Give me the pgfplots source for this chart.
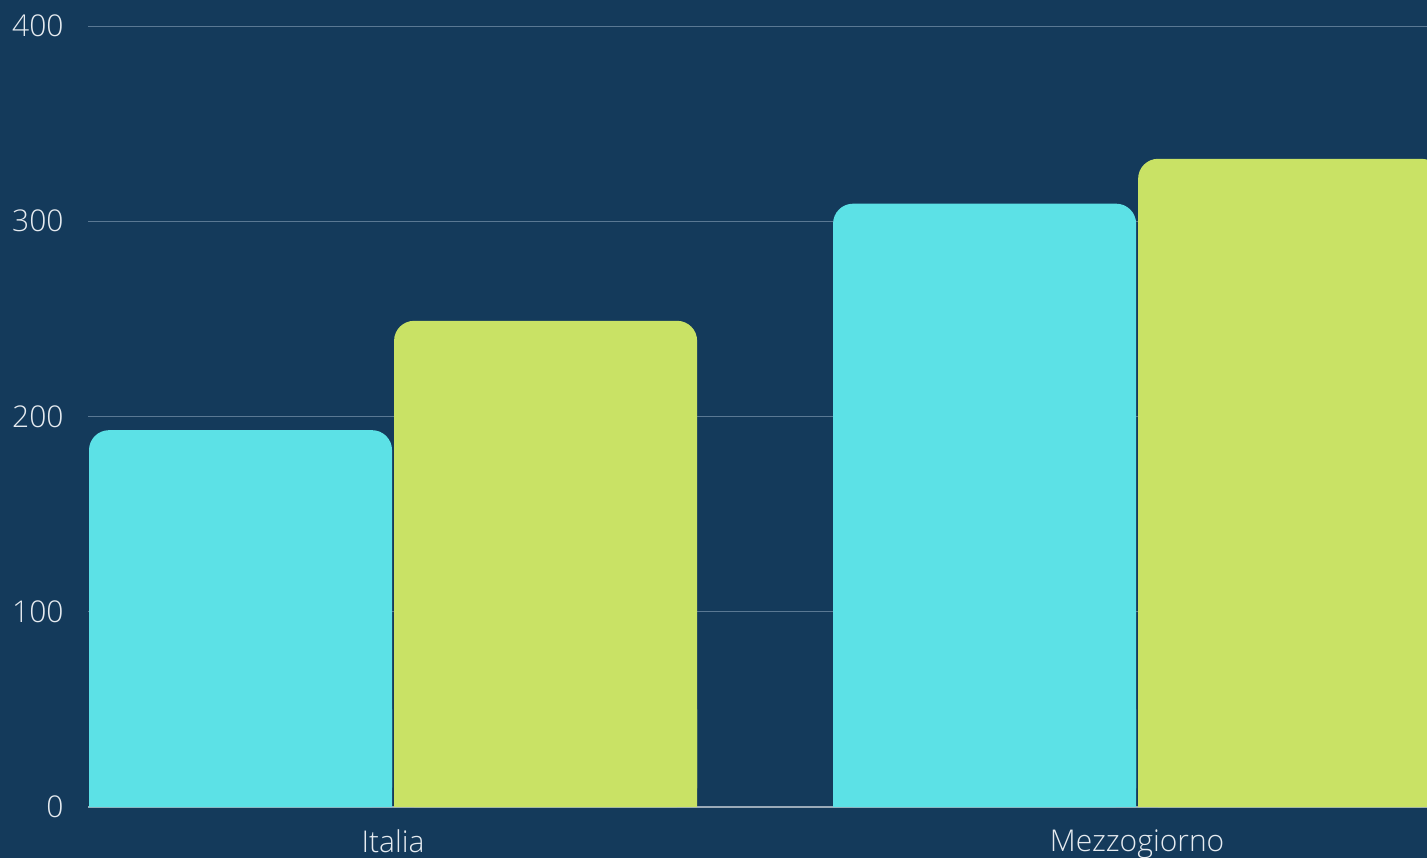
\documentclass[border=0pt]{standalone}
\usepackage{fontspec}
\setmainfont{Open Sans Light}
\usepackage{pgfplots}
\pgfplotsset{compat=1.18}
\definecolor{bgc}{HTML}{143A5B}
\definecolor{cyanbar}{HTML}{5CE1E6}
\definecolor{greenbar}{HTML}{C9E265}
\definecolor{gridc}{HTML}{5A7893}
\definecolor{axisc}{HTML}{9AAAB8}
\definecolor{textc}{HTML}{E6EBF0}

\begin{document}
\begin{tikzpicture}
\fill[bgc] (0,0) rectangle (713.5pt,429pt);
\useasboundingbox (0,0) rectangle (713.5pt,429pt);
\begin{axis}[
    at={(44pt,25.5pt)}, anchor=south west,
    scale only axis, width=669.5pt, height=390.5pt,
    xmin=-0.4100, xmax=1.3896, ymin=0, ymax=400,
    axis x line*=bottom, axis y line*=left,
    x axis line style={draw=axisc, line width=0.75pt, -},
    y axis line style={draw=none},
    major tick length=0pt,
    ytick={0,100,200,300,400},
    ymajorgrids, grid style={draw=gridc, line width=0.5pt},
    xtick={0,1}, xticklabels={Italia,Mezzogiorno},
    ticklabel style={font=\fontsize{15}{18}\selectfont, text=textc},
    yticklabel style={anchor=east, inner sep=0pt, xshift=-12pt},
    xticklabel style={anchor=north, inner sep=0pt, yshift=-11pt},
    /pgf/number format/assume math mode=true,
]
% rounded top bars
\addplot[ybar, bar width=0.4073, bar shift=-0.205, fill=cyanbar, draw=none, rounded corners=10pt]
    coordinates {(0,193) (1,309)};
\addplot[ybar, bar width=0.4073, bar shift=0.205, fill=greenbar, draw=none, rounded corners=10pt]
    coordinates {(0,249) (1,332)};
% square off the bottom corners
\addplot[ybar, bar width=0.4073, bar shift=-0.205, fill=cyanbar, draw=none]
    coordinates {(0,50) (1,50)};
\addplot[ybar, bar width=0.4073, bar shift=0.205, fill=greenbar, draw=none]
    coordinates {(0,50) (1,50)};
\end{axis}
\end{tikzpicture}
\end{document}
